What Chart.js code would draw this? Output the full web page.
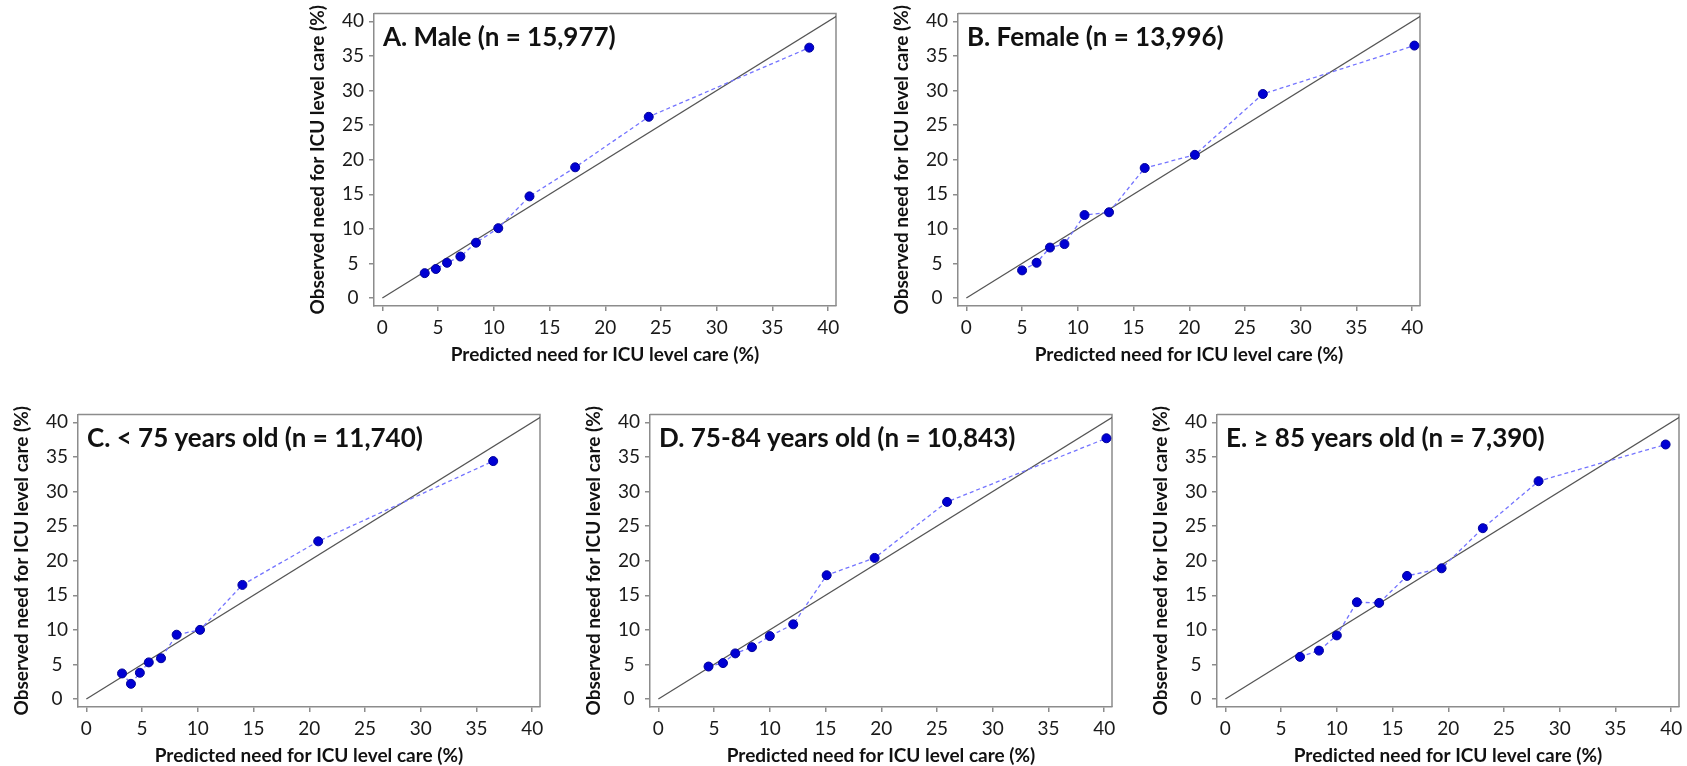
<!DOCTYPE html>
<html><head><meta charset="utf-8">
<script src="https://cdn.jsdelivr.net/npm/chart.js@4.4.1/dist/chart.umd.min.js"></script>
<style>
html,body{margin:0;padding:0;background:#fff;width:1687px;height:766px;overflow:hidden;position:relative}
.panel{position:absolute}
canvas{display:block}
</style></head><body>
<div class="panel" id="pA"><canvas id="cA" width="550" height="369"></canvas></div>
<div class="panel" id="pB"><canvas id="cB" width="550" height="369"></canvas></div>
<div class="panel" id="pC"><canvas id="cC" width="550" height="369"></canvas></div>
<div class="panel" id="pD"><canvas id="cD" width="550" height="369"></canvas></div>
<div class="panel" id="pE"><canvas id="cE" width="550" height="369"></canvas></div>
<script>
// ---- data ----
const tickValues = [0, 5, 10, 15, 20, 25, 30, 35, 40];
const refLine = [0, 41];
const xTitle = 'Predicted need for ICU level care (%)';
const yTitle = 'Observed need for ICU level care (%)';
const panelTitles = [
  'A. Male (n = 15,977)',
  'B. Female (n = 13,996)',
  'C. < 75 years old (n = 11,740)',
  'D. 75-84 years old (n = 10,843)',
  'E. \u2265 85 years old (n = 7,390)'
];
const malePred   = [3.8, 4.8, 5.8, 7.0, 8.4, 10.4, 13.2, 17.3, 23.9, 38.3];
const maleObs    = [3.6, 4.2, 5.1, 6.0, 8.0, 10.1, 14.7, 18.9, 26.2, 36.2];
const femalePred = [5.0, 6.3, 7.5, 8.8, 10.6, 12.8, 16.0, 20.5, 26.6, 40.2];
const femaleObs  = [4.0, 5.1, 7.3, 7.8, 12.0, 12.4, 18.8, 20.7, 29.5, 36.5];
const under75Pred = [3.2, 4.0, 4.8, 5.6, 6.7, 8.1, 10.2, 14.0, 20.8, 36.5];
const under75Obs  = [3.7, 2.2, 3.8, 5.3, 5.9, 9.3, 10.0, 16.5, 22.8, 34.4];
const age75to84Pred = [4.5, 5.8, 6.9, 8.4, 10.0, 12.1, 15.1, 19.4, 25.9, 40.2];
const age75to84Obs  = [4.7, 5.2, 6.6, 7.5, 9.1, 10.8, 17.9, 20.4, 28.5, 37.7];
const over85Pred = [6.7, 8.4, 10.0, 11.8, 13.8, 16.3, 19.4, 23.1, 28.1, 39.5];
const over85Obs  = [6.1, 7.0, 9.2, 14.0, 13.9, 17.8, 18.9, 24.7, 31.5, 36.8];

// ---- layout (plot-area top-left corners) ----
const Y_AXIS_W = 76, X_AXIS_H = 60, PAD_TOP = 12, PAD_RIGHT = 12;
const panels = [
  {id: 'A', left: 374,  top: 9,   pred: malePred,      obs: maleObs,      title: panelTitles[0]},
  {id: 'B', left: 958,  top: 9,   pred: femalePred,    obs: femaleObs,    title: panelTitles[1]},
  {id: 'C', left: 78,   top: 410, pred: under75Pred,   obs: under75Obs,   title: panelTitles[2]},
  {id: 'D', left: 650,  top: 410, pred: age75to84Pred, obs: age75to84Obs, title: panelTitles[3]},
  {id: 'E', left: 1217, top: 410, pred: over85Pred,    obs: over85Obs,    title: panelTitles[4]}
];

Chart.defaults.font.family = 'Lato, "Open Sans", sans-serif';
const AXIS_GREY = '#8c8c8c';

const framePlugin = {
  id: 'frame',
  beforeDatasetsDraw(chart) {
    const {ctx, chartArea: {left, top, right, bottom}} = chart;
    ctx.save();
    ctx.strokeStyle = AXIS_GREY;
    ctx.lineWidth = 1.5;
    ctx.beginPath();
    ctx.moveTo(left, top);
    ctx.lineTo(right, top);
    ctx.lineTo(right, bottom);
    ctx.stroke();
    ctx.restore();
  },
  afterDraw(chart, args, opts) {
    const {ctx, chartArea: {left, top}} = chart;
    ctx.save();
    ctx.font = 'bold 26px Lato, "Open Sans", sans-serif';
    ctx.fillStyle = '#111';
    ctx.textBaseline = 'alphabetic';
    ctx.textAlign = 'left';
    ctx.fillText(opts.text, left + 9, top + 33);
    ctx.restore();
  }
};

function axisCommon(min, max) {
  return {
    type: 'linear', min: min, max: max,
    afterBuildTicks: s => { s.ticks = tickValues.map(v => ({value: v})); },
    grid: {display: true, drawOnChartArea: false, drawTicks: true, tickLength: 5, color: AXIS_GREY, lineWidth: 1.5},
    border: {display: true, color: AXIS_GREY, width: 1.5},
  };
}

panels.forEach(p => {
  const div = document.getElementById('p' + p.id);
  div.style.left = (p.left - Y_AXIS_W) + 'px';
  div.style.top = (p.top - PAD_TOP) + 'px';
  const xs = axisCommon(-0.75, 40.7);
  xs.afterFit = s => { s.height = X_AXIS_H; };
  xs.ticks = {color: '#1a1a1a', font: {size: 19}, padding: 5, maxRotation: 0, autoSkip: false};
  xs.title = {display: true, text: xTitle, color: '#111', font: {size: 19, weight: 'bold'}, padding: {top: 0, bottom: 0}};
  const ys = axisCommon(-1.15, 41.15);
  ys.afterFit = s => { s.width = Y_AXIS_W; };
  ys.ticks = {color: '#1a1a1a', font: {size: 19}, padding: 5, crossAlign: 'center', autoSkip: false};
  ys.title = {display: true, text: yTitle, color: '#111', font: {size: 19, weight: 'bold'}, padding: {top: 8, bottom: 0}};

  new Chart(document.getElementById('c' + p.id), {
    type: 'scatter',
    data: {
      datasets: [
        {
          label: 'Observed vs predicted',
          data: p.pred.map((x, i) => ({x: x, y: p.obs[i]})),
          showLine: true,
          borderColor: '#7474ff',
          borderWidth: 1.3,
          borderDash: [4, 3],
          pointRadius: 4.5,
          pointBackgroundColor: '#0000d4',
          pointBorderColor: '#00009a',
          pointBorderWidth: 1,
          order: 0
        },
        {
          label: 'Perfect calibration',
          data: refLine.map(v => ({x: v, y: v})),
          showLine: true,
          borderColor: '#555555',
          borderWidth: 1.3,
          pointRadius: 0,
          order: 1
        }
      ]
    },
    options: {
      responsive: false,
      animation: false,
      events: [],
      layout: {padding: {left: 0, right: PAD_RIGHT, top: PAD_TOP, bottom: 0}},
      plugins: {legend: {display: false}, tooltip: {enabled: false}, frame: {text: p.title}},
      scales: {x: xs, y: ys}
    },
    plugins: [framePlugin]
  });
});
</script>
</body></html>
